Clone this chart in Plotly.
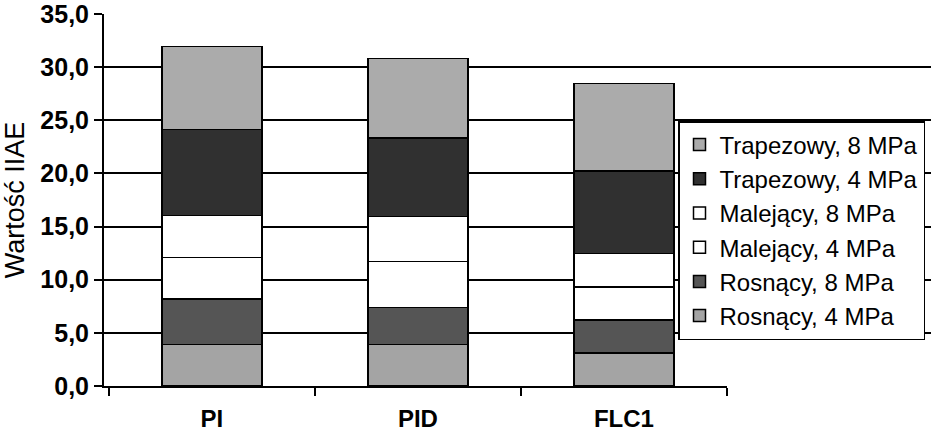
import plotly.graph_objects as go

categories = ["PI", "PID", "FLC1"]
series_names = ["Rosnący, 4 MPa", "Rosnący, 8 MPa", "Malejący, 4 MPa",
                "Malejący, 8 MPa", "Trapezowy, 4 MPa", "Trapezowy, 8 MPa"]
rosnacy_4 = [3.9, 3.9, 3.1]
rosnacy_8 = [4.3, 3.5, 3.1]
malejacy_4 = [3.9, 4.3, 3.1]
malejacy_8 = [3.95, 4.25, 3.15]
trapezowy_4 = [8.1, 7.4, 7.8]
trapezowy_8 = [7.8, 7.45, 8.2]
y_ticks = [0, 5, 10, 15, 20, 25, 30, 35]
y_ticktext = ["0,0", "5,0", "10,0", "15,0", "20,0", "25,0", "30,0", "35,0"]

values = [rosnacy_4, rosnacy_8, malejacy_4, malejacy_8, trapezowy_4, trapezowy_8]
fills = ["#a4a4a4", "#555555", "#ffffff", "#ffffff", "#303030", "#ababab"]

fig = go.Figure()
for name, vals, col in zip(series_names, values, fills):
    fig.add_trace(go.Bar(
        x=categories, y=vals, name=name, width=0.485,
        marker=dict(color=col, line=dict(color="#000000", width=1.5)),
    ))

# invisible helper trace on a side subplot that only carries the grid extension
fig.add_trace(go.Scatter(x=[0], y=[0], xaxis="x2", yaxis="y2", mode="markers",
                         marker=dict(opacity=0), showlegend=False, hoverinfo="skip"))

px_per_cat = 206.0
plot_w = 931 - 104
top, bottom = 14, 47
plot_h = 433 - top - bottom
x_lo, x_hi = -0.524, 2.5
d = (x_hi - x_lo) * px_per_cat / plot_w
font = "Liberation Sans, Arial, sans-serif"

fig.update_layout(
    width=931, height=433,
    margin=dict(l=104, r=0, t=top, b=bottom, autoexpand=False),
    barmode="stack",
    plot_bgcolor="white", paper_bgcolor="white",
    font=dict(family=font, color="#000000"),
    xaxis=dict(
        domain=[0, d], range=[x_lo, x_hi], type="category", automargin=False,
        showline=True, linecolor="#000000", linewidth=2,
        ticks="outside", tickson="boundaries", ticklen=8, tickwidth=2, tickcolor="#000000",
        showgrid=False, zeroline=False,
        tickfont=dict(size=24, weight="bold", family=font),
        ticklabelstandoff=10,
    ),
    yaxis=dict(
        anchor="x", range=[0, 35], tickvals=y_ticks, ticktext=y_ticktext, automargin=False,
        showgrid=True, gridcolor="#000000", gridwidth=2, zeroline=False,
        showline=True, linecolor="#000000", linewidth=2,
        ticks="outside", ticklen=8, tickwidth=2, tickcolor="#000000",
        tickfont=dict(size=25, weight="bold", family=font),
        ticklabeloverflow="allow",
        title=dict(text="Wartość IIAE", font=dict(size=27, family=font), standoff=12),
    ),
    xaxis2=dict(
        domain=[d, 1], range=[0, 1], anchor="y2", visible=False,
    ),
    yaxis2=dict(
        anchor="x2", range=[0, 35], tickvals=y_ticks[1:],
        showgrid=True, gridcolor="#000000", gridwidth=2,
        showticklabels=False, ticks="", showline=False, zeroline=False,
    ),
    legend=dict(
        x=(678 - 104) / plot_w, y=(386 - 121) / plot_h, xanchor="left", yanchor="top",
        bgcolor="white", bordercolor="#000000", borderwidth=1.5,
        font=dict(size=24, family=font), traceorder="reversed",
    ),
)

fig.write_html("out.html")
